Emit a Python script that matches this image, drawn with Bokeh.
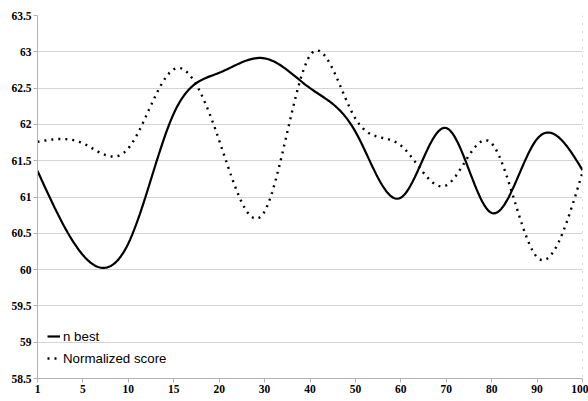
import numpy as np
from bokeh.plotting import figure
from bokeh.models import Range1d, FixedTicker, Legend, LegendItem, Span
from bokeh.embed import file_html
from bokeh.resources import INLINE

categories = ["1", "5", "10", "15", "20", "30", "40", "50", "60", "70", "80", "90", "100"]
n_best = [61.36, 60.2, 60.36, 62.15, 62.71, 62.91, 62.5, 61.9, 60.99, 61.95, 60.78, 61.8, 61.37]
normalized_score = [61.76, 61.74, 61.67, 62.76, 61.78, 60.8, 62.95, 62.08, 61.71, 61.16, 61.74, 60.17, 61.34]
y_ticks = [58.5, 59, 59.5, 60, 60.5, 61, 61.5, 62, 62.5, 63, 63.5]


def natural_spline(y, samples=24):
    y = np.asarray(y, dtype=float)
    n = len(y)
    x = np.arange(n, dtype=float)
    A = np.zeros((n, n))
    b = np.zeros(n)
    A[0, 0] = 1
    A[-1, -1] = 1
    for i in range(1, n - 1):
        A[i, i - 1] = 1
        A[i, i] = 4
        A[i, i + 1] = 1
        b[i] = 6 * (y[i + 1] - 2 * y[i] + y[i - 1])
    M = np.linalg.solve(A, b)
    xs, ys = [], []
    for i in range(n - 1):
        t = np.linspace(0, 1, samples, endpoint=(i == n - 2))
        a = 1 - t
        val = a * y[i] + t * y[i + 1] + ((a ** 3 - a) * M[i] + (t ** 3 - t) * M[i + 1]) / 6
        xs.extend(x[i] + t)
        ys.extend(val)
    return xs, ys


p = figure(width=588, height=401, output_backend="svg", toolbar_location=None,
           x_range=Range1d(0, 12), y_range=Range1d(58.5, 63.5),
           min_border_left=37, min_border_right=6, min_border_top=15, min_border_bottom=23)
p.outline_line_color = None
p.background_fill_color = "white"

p.xaxis.ticker = FixedTicker(ticks=list(range(len(categories))))
p.xaxis.major_label_overrides = {i: c for i, c in enumerate(categories)}
p.yaxis.ticker = FixedTicker(ticks=y_ticks)
p.yaxis.major_label_overrides = {v: ("%g" % v) for v in y_ticks}

for ax in (p.xaxis[0], p.yaxis[0]):
    ax.axis_line_color = "#b3b3b3"
    ax.major_tick_line_color = "#b3b3b3"
    ax.major_tick_in = 0
    ax.major_tick_out = 4
    ax.minor_tick_line_color = None
    ax.major_label_text_font = "Liberation Sans Narrow"
    ax.major_label_text_font_style = "bold"
    ax.major_label_text_font_size = "11.5px"
    ax.major_label_text_color = "black"
    ax.major_label_standoff = 2

p.xgrid.grid_line_color = None
p.ygrid.grid_line_color = "#d4d4d4"

p.add_layout(Span(location=12, dimension="height", line_color="#777777",
                  line_dash="1 7", line_width=1))

xs1, ys1 = natural_spline(n_best)
xs2, ys2 = natural_spline(normalized_score)
r1 = p.line(xs1, ys1, line_color="black", line_width=2.2)
r2 = p.line(xs2, ys2, line_color="black", line_width=2.4, line_dash="2 5")

legend = Legend(items=[LegendItem(label="n best", renderers=[r1]),
                       LegendItem(label="Normalized score", renderers=[r2])],
                location="bottom_left")
legend.border_line_color = None
legend.background_fill_alpha = 0
legend.padding = 0
legend.margin = 10
legend.spacing = 2
legend.glyph_width = 13
legend.glyph_height = 20
legend.label_height = 20
legend.label_standoff = 3
legend.label_text_font = "Liberation Sans"
legend.label_text_font_size = "13.3px"
legend.label_text_color = "black"
p.add_layout(legend, "center")

open("out.html", "w").write(file_html(p, INLINE))
